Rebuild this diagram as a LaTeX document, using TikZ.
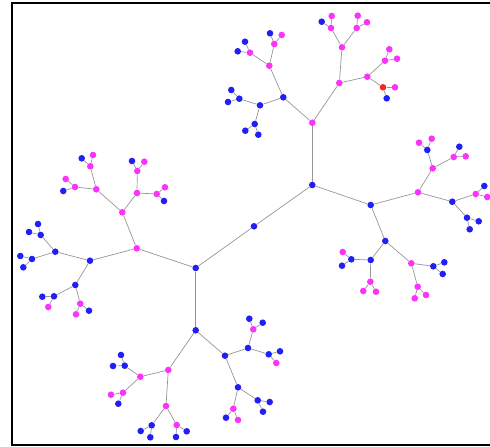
\documentclass[tikz,border=0pt]{standalone}
\begin{document}
\begin{tikzpicture}[x=1pt,y=-1pt,
  dot/.style={circle,inner sep=0pt,minimum size=6.6pt,draw=none},
  bn/.style={dot,fill=nblue},
  mn/.style={dot,fill=nmag},
  rn/.style={dot,fill=nred},
  edge/.style={draw=edgegray,line width=0.7pt},
  frame/.style={draw=black,line width=2pt}]
\definecolor{nblue}{RGB}{32,32,245}
\definecolor{nmag}{RGB}{250,50,250}
\definecolor{nred}{RGB}{245,40,40}
\definecolor{edgegray}{RGB}{150,150,150}
\useasboundingbox (0,0) rectangle (490,447);
\draw[frame] (490,3.3) -- (11.8,3.3) -- (11.8,444.6) -- (490,444.6);
% centre
\node[bn] (r) at (254,226.3) {};
\node[bn] (A) at (312.3,185) {};
\node[bn] (B) at (195.7,268) {};
\node[mn] (A1) at (312.3,122.7) {};
\node[bn] (A2) at (370.7,205) {};
\node[mn] (B1) at (136.7,248.3) {};
\node[bn] (B2) at (195.7,330.3) {};
% A1 subtree
\node[bn] (A11) at (283.3,97.3) {};
\node[mn] (A12) at (339.3,83) {};
\node[mn] (A111) at (269.3,65.7) {};
\node[bn] (A112) at (260,105.3) {};
\node[mn] (A1111) at (250,52.7) {};
\node[bn] (A11111) at (245,41.7) {};
\node[bn] (A11112) at (237.7,51.3) {};
\node[mn] (A1112) at (274.3,44) {};
\node[bn] (A11121) at (270,33.3) {};
\node[mn] (A11122) at (281.7,35) {};
\node[bn] (A1121) at (239.3,98.7) {};
\node[bn] (A11211) at (231.3,90) {};
\node[bn] (A11212) at (228,102) {};
\node[bn] (A1122) at (254.7,124) {};
\node[bn] (A11221) at (245.3,130.7) {};
\node[bn] (A11222) at (258.3,134.7) {};
\node[mn] (A121) at (342,47.3) {};
\node[mn] (A122) at (367.3,76.7) {};
\node[mn] (A1211) at (331,28) {};
\node[mn] (A12111) at (331.7,16) {};
\node[bn] (A12112) at (321.7,21.7) {};
\node[mn] (A1212) at (356.7,28) {};
\node[mn] (A12121) at (357.7,15.7) {};
\node[mn] (A12122) at (367,22.3) {};
\node[mn] (A1221) at (385,60.7) {};
\node[mn] (A12211) at (389.3,49.3) {};
\node[mn] (A12212) at (397,58.7) {};
\node[rn] (A1222) at (383,87.3) {};
\node[mn] (A12221) at (395,87.3) {};
\node[bn] (A12222) at (386.7,98.3) {};
% A2 subtree
\node[mn] (A21) at (418,192.3) {};
\node[bn] (A22) at (385.3,241) {};
\node[mn] (A211) at (432.7,168.3) {};
\node[bn] (A212) at (452.3,201.7) {};
\node[bn] (A2111) at (427.3,150) {};
\node[mn] (A21111) at (419,142.7) {};
\node[mn] (A21112) at (431.7,138.7) {};
\node[mn] (A2112) at (453.7,157) {};
\node[mn] (A21121) at (465.7,156.3) {};
\node[bn] (A21122) at (459.3,146.7) {};
\node[mn] (A2121) at (475.7,194) {};
\node[bn] (A21211) at (484.3,186) {};
\node[mn] (A21212) at (487.3,197) {};
\node[bn] (A2122) at (467,217.7) {};
\node[bn] (A21221) at (478.7,221.3) {};
\node[bn] (A21222) at (469.7,229.3) {};
\node[bn] (A221) at (370.7,260) {};
\node[mn] (A222) at (411.3,263.3) {};
\node[bn] (A2211) at (351.3,259.3) {};
\node[mn] (A22111) at (342.7,252) {};
\node[bn] (A22112) at (342,265.7) {};
\node[mn] (A2212) at (370.3,281.7) {};
\node[mn] (A22121) at (363.3,291) {};
\node[mn] (A22122) at (376,291.7) {};
\node[bn] (A2221) at (433.3,266.3) {};
\node[bn] (A22211) at (444.3,262.3) {};
\node[bn] (A22212) at (442.7,274) {};
\node[mn] (A2222) at (417.7,286.7) {};
\node[mn] (A22221) at (414.7,298.3) {};
\node[mn] (A22222) at (426,295) {};
% B1 subtree
\node[mn] (B11) at (122.3,212.3) {};
\node[bn] (B12) at (90,260.7) {};
\node[mn] (B111) at (96.3,189.3) {};
\node[mn] (B112) at (137,193) {};
\node[mn] (B1111) at (90.3,166.3) {};
\node[mn] (B11111) at (93,155) {};
\node[bn] (B11112) at (81.7,158.3) {};
\node[mn] (B1112) at (75,187) {};
\node[mn] (B11121) at (65.7,179) {};
\node[bn] (B11122) at (63.3,191) {};
\node[mn] (B1121) at (137.3,171) {};
\node[bn] (B11211) at (132,161) {};
\node[mn] (B11212) at (144.3,161.7) {};
\node[mn] (B1122) at (156.7,194) {};
\node[mn] (B11221) at (165,187.3) {};
\node[bn] (B11222) at (164,201) {};
\node[bn] (B121) at (55.3,251.7) {};
\node[bn] (B122) at (75.3,285) {};
\node[bn] (B1211) at (40.7,235) {};
\node[bn] (B12111) at (38,224) {};
\node[bn] (B12112) at (29,232) {};
\node[bn] (B1212) at (32,259) {};
\node[bn] (B12121) at (20.3,256) {};
\node[bn] (B12122) at (23.3,267.3) {};
\node[bn] (B1221) at (54,296.3) {};
\node[bn] (B12211) at (42.3,296.7) {};
\node[mn] (B12212) at (48.3,307) {};
\node[mn] (B1222) at (80.3,303.7) {};
\node[mn] (B12221) at (76,314.3) {};
\node[bn] (B12222) at (89,310.7) {};
% B2 subtree
\node[mn] (B21) at (168.3,370) {};
\node[bn] (B22) at (225,355.7) {};
\node[mn] (B211) at (140.3,376.7) {};
\node[mn] (B212) at (166,406) {};
\node[bn] (B2111) at (124.7,365.7) {};
\node[bn] (B21111) at (121,355) {};
\node[bn] (B21112) at (113,366) {};
\node[mn] (B2112) at (123,392.7) {};
\node[mn] (B21121) at (111,394.7) {};
\node[bn] (B21122) at (118.3,403.7) {};
\node[bn] (B2121) at (151.7,425.3) {};
\node[bn] (B21211) at (140.7,431) {};
\node[bn] (B21212) at (150.3,437.3) {};
\node[mn] (B2122) at (176.7,425) {};
\node[bn] (B21221) at (176,437) {};
\node[bn] (B21222) at (186.7,431.3) {};
\node[bn] (B221) at (248,348) {};
\node[bn] (B222) at (238,387.3) {};
\node[mn] (B2211) at (253.3,329.3) {};
\node[bn] (B22111) at (249.3,318.7) {};
\node[bn] (B22112) at (262.7,322.7) {};
\node[bn] (B2212) at (268.7,354.3) {};
\node[bn] (B22121) at (280,351.3) {};
\node[mn] (B22122) at (276.3,363) {};
\node[bn] (B2221) at (257.7,400.3) {};
\node[bn] (B22211) at (269.7,402) {};
\node[bn] (B22212) at (263,411.7) {};
\node[mn] (B2222) at (233.3,408.7) {};
\node[bn] (B22221) at (226,417.7) {};
\node[mn] (B22222) at (238,420) {};
% edges
\foreach \p/\c in {r/A,r/B,A/A1,A/A2,B/B1,B/B2} \draw[edge] (\p) -- (\c);
\foreach \s in {A1,A2,B1,B2} {
  \draw[edge] (\s) -- (\s1);
  \draw[edge] (\s) -- (\s2);
  \foreach \t in {1,2} {
    \draw[edge] (\s\t) -- (\s\t1);
    \draw[edge] (\s\t) -- (\s\t2);
    \foreach \u in {1,2} {
      \draw[edge] (\s\t\u) -- (\s\t\u1);
      \draw[edge] (\s\t\u) -- (\s\t\u2);
      \foreach \v in {1,2} {
        \draw[edge] (\s\t\u\v) -- (\s\t\u\v1);
        \draw[edge] (\s\t\u\v) -- (\s\t\u\v2);
      }
    }
  }
}
\end{tikzpicture}
\end{document}
